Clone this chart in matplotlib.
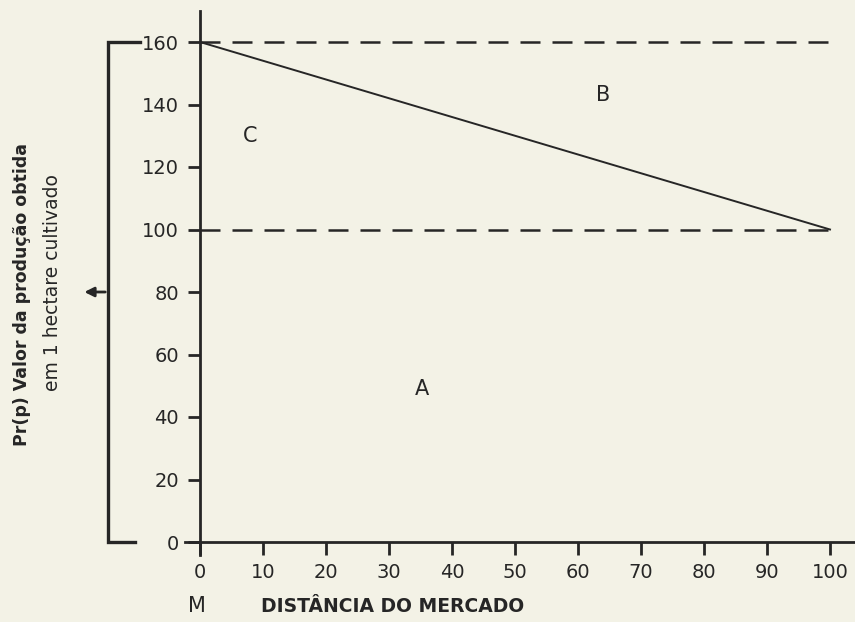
import matplotlib
matplotlib.use("Agg")
import matplotlib.pyplot as plt

# data
distance = [0, 100]                 # km from market
value_line = [160, 100]             # solid line: value of production per hectare
dashed_levels = [160, 100]          # horizontal dashed reference levels
x_ticks = [0, 10, 20, 30, 40, 50, 60, 70, 80, 90, 100]
y_ticks = [0, 20, 40, 60, 80, 100, 120, 140, 160]
region_labels = ["A", "B", "C"]

ink = "#262626"
fig = plt.figure(figsize=(8.55, 6.22), dpi=100, facecolor="#f3f2e6")
# axes placed so that x=0 -> px 200, x=100 -> px 830; y=0 -> px 542, y=160 -> px 42
W, H = 855, 622
xmin, xmax = -2.4, 104.0
ymin, ymax = -4.0, 170.0
sx = 6.3
sy = 500 / 160
left_px = 200 + xmin * sx
right_px = 200 + xmax * sx
bot_px = 542 - ymin * sy
top_px = 542 - ymax * sy
ax = fig.add_axes([left_px / W, 1 - bot_px / H, (right_px - left_px) / W, (bot_px - top_px) / H])
ax.set_facecolor("none")
ax.set_xlim(xmin, xmax)
ax.set_ylim(ymin, ymax)

for s in ["top", "right"]:
    ax.spines[s].set_visible(False)
ax.spines["left"].set_position(("data", 0))
ax.spines["bottom"].set_position(("data", 0))
for s in ["left", "bottom"]:
    ax.spines[s].set_linewidth(2.0)
    ax.spines[s].set_color(ink)

ax.set_xticks(x_ticks)
ax.set_yticks(y_ticks)
ax.tick_params(axis="both", direction="out", length=9, width=2.0, color=ink,
               labelsize=14, labelcolor=ink, pad=6)

# dashed levels
for lv in dashed_levels:
    ax.plot(distance, [lv, lv], linestyle=(0, (8, 4.8)), color=ink, lw=1.8)
# solid line
ax.plot(distance, value_line, color=ink, lw=1.4)

# region labels
ax.text(8, 130, region_labels[2], fontsize=15, color=ink, ha="center", va="center")
ax.text(64, 143, region_labels[1], fontsize=15, color=ink, ha="center", va="center")
ax.text(35.3, 49, region_labels[0], fontsize=15, color=ink, ha="center", va="center")

# bracket on the left
bx = -14.6
ax.plot([-9.5, bx, bx, -10.3], [160, 160, 0, 0], color=ink, lw=2.4, clip_on=False,
        solid_joinstyle="miter")
ax.annotate("", xy=(-18.8, 80), xytext=(bx, 80),
            arrowprops=dict(arrowstyle="-|>", color=ink, lw=2.0, mutation_scale=14),
            annotation_clip=False)

# y label (two lines)
fig.text(22 / W, 1 - 295 / H, "Pr(p) Valor da produção obtida", rotation=90,
         fontsize=12.5, fontweight="bold", color=ink, ha="center", va="center")
fig.text(52 / W, 1 - 283 / H, "em 1 hectare cultivado", rotation=90,
         fontsize=13.5, color=ink, ha="center", va="center")

# x label
fig.text(197 / W, 1 - 606 / H, "M", fontsize=15, color=ink, ha="center", va="center")
fig.text(393 / W, 1 - 606 / H, "DISTÂNCIA DO MERCADO", fontsize=13.5, fontweight="bold",
         color=ink, ha="center", va="center")

fig.savefig("out.png", dpi=100, facecolor=fig.get_facecolor())
